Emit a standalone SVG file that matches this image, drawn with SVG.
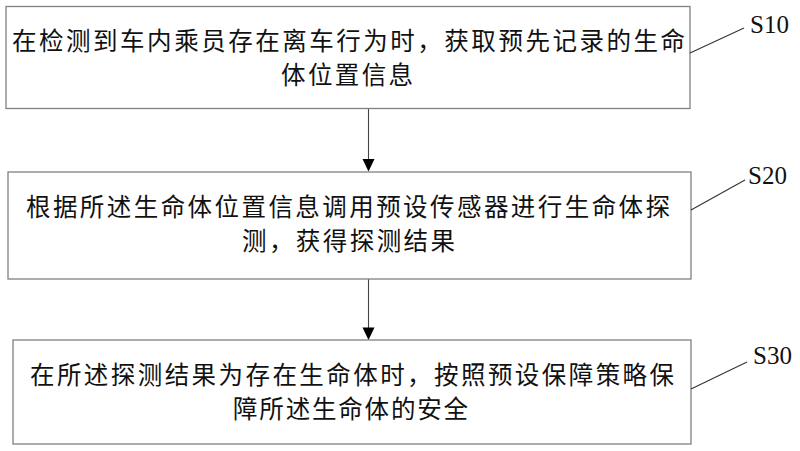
<svg xmlns="http://www.w3.org/2000/svg" width="800" height="451" viewBox="0 0 800 451">
<style>
.box{fill:#fff;stroke:#808080;stroke-width:1.3}
.t{font-family:"Noto Sans CJK SC","Noto Sans CJK JP",sans-serif;font-size:24.5px;fill:#111}
.lbl{font-family:"Liberation Serif","Times New Roman",serif;font-size:25px;fill:#111}
.lead{stroke:#333;stroke-width:1.1;fill:none}
.conn{stroke:#444;stroke-width:1.1;fill:none}
</style>
<defs>
<marker id="ah" markerWidth="12" markerHeight="12" viewBox="0 0 12 12" refX="6" refY="12" orient="auto-start-reverse" markerUnits="userSpaceOnUse">
<path d="M0,0 L12,0 L6,12 Z" fill="#000"/>
</marker>
</defs>
<rect width="800" height="451" fill="#fff"/>
<g id="connectors">
<line class="conn" x1="368.5" y1="108.5" x2="368.5" y2="160"/>
<path d="M362.5,159 L374.5,159 L368.5,171.5 Z" fill="#000"/>
<line class="conn" x1="368.5" y1="279" x2="368.5" y2="328"/>
<path d="M362.5,327.5 L374.5,327.5 L368.5,340 Z" fill="#000"/>
</g>
<g id="node-s10">
<rect class="box" x="6" y="6.5" width="684" height="102"/>
<text class="t" x="12" y="49.5" textLength="673" lengthAdjust="spacing">在检测到车内乘员存在离车行为时，获取预先记录的生命</text>
<text class="t" x="281" y="83.5" textLength="132" lengthAdjust="spacing">体位置信息</text>
<line class="lead" x1="690" y1="53" x2="744" y2="28"/>
<text class="lbl" x="750" y="33">S10</text>
</g>
<g id="node-s20">
<rect class="box" x="8" y="172" width="683" height="107"/>
<text class="t" x="26" y="215.5" textLength="644" lengthAdjust="spacing">根据所述生命体位置信息调用预设传感器进行生命体探</text>
<text class="t" x="242" y="249.5" textLength="213" lengthAdjust="spacing">测，获得探测结果</text>
<line class="lead" x1="691" y1="210" x2="745" y2="180"/>
<text class="lbl" x="748" y="184">S20</text>
</g>
<g id="node-s30">
<rect class="box" x="13" y="340" width="678" height="104"/>
<text class="t" x="30" y="383.5" textLength="644" lengthAdjust="spacing">在所述探测结果为存在生命体时，按照预设保障策略保</text>
<text class="t" x="233" y="417.5" textLength="235" lengthAdjust="spacing">障所述生命体的安全</text>
<line class="lead" x1="691" y1="389" x2="747" y2="362"/>
<text class="lbl" x="753" y="364">S30</text>
</g>
</svg>
